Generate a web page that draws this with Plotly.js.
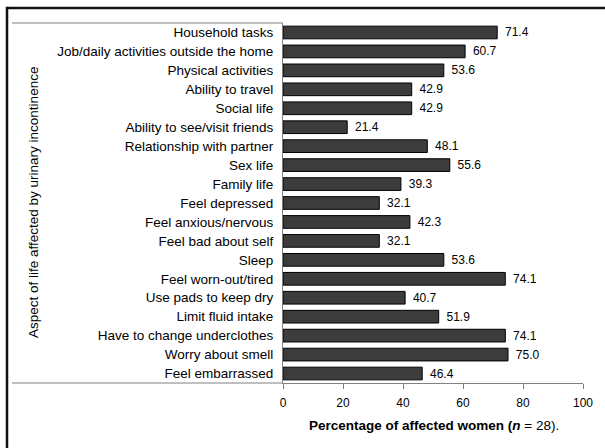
<!DOCTYPE html>
<html>
<head>
<meta charset="utf-8">
<script src="https://cdn.plot.ly/plotly-3.0.1.min.js"></script>
<style>html,body{margin:0;padding:0;background:#fff;}#chart{width:605px;height:448px;}</style>
</head>
<body>
<div id="chart"></div>
<script>
var categories = [
  "Household tasks",
  "Job/daily activities outside the home",
  "Physical activities",
  "Ability to travel",
  "Social life",
  "Ability to see/visit friends",
  "Relationship with partner",
  "Sex life",
  "Family life",
  "Feel depressed",
  "Feel anxious/nervous",
  "Feel bad about self",
  "Sleep",
  "Feel worn-out/tired",
  "Use pads to keep dry",
  "Limit fluid intake",
  "Have to change underclothes",
  "Worry about smell",
  "Feel embarrassed"
];
var percentages = [71.4, 60.7, 53.6, 42.9, 42.9, 21.4, 48.1, 55.6, 39.3, 32.1, 42.3, 32.1, 53.6, 74.1, 40.7, 51.9, 74.1, 75.0, 46.4];
var xTickValues = [0, 20, 40, 60, 80, 100];

var font = "Liberation Sans, Arial, sans-serif";
var gridGrey = "#808080";

var trace = {
  type: "bar",
  orientation: "h",
  y: categories,
  x: percentages,
  marker: {color: "#3c3c3c", line: {color: "#000000", width: 1}},
  texttemplate: "\u2009\u2009%{x:.1f}",
  textposition: "outside",
  constraintext: "none",
  cliponaxis: false,
  textfont: {family: font, size: 12, color: "#000"},
  hoverinfo: "none"
};

var layout = {
  width: 605, height: 448,
  margin: {l: 283, r: 22, t: 23, b: 65},
  paper_bgcolor: "#fff", plot_bgcolor: "#fff",
  showlegend: false,
  bargap: 0.33,
  font: {family: font, color: "#000"},
  xaxis: {
    range: [0, 100], tickvals: xTickValues, ticks: "outside", ticklen: 5, tickwidth: 1,
    tickcolor: gridGrey, showline: true, linecolor: gridGrey, linewidth: 1,
    showgrid: false, zeroline: false, ticklabelstandoff: 4,
    tickfont: {family: font, size: 12, color: "#000"}
  },
  yaxis: {
    autorange: "reversed", ticks: "", showline: true, linecolor: gridGrey, linewidth: 1,
    showgrid: false, zeroline: false, ticklabelstandoff: 6,
    tickfont: {family: font, size: 13.5, color: "#000"}
  },
  annotations: [
    {xref: "paper", yref: "paper", x: -0.8333, y: 0.5, xanchor: "center", yanchor: "middle",
     textangle: -90, showarrow: false,
     text: "Aspect of life affected by urinary incontinence", font: {family: font, size: 13.5, color: "#000"}},
    {xref: "paper", yref: "paper", x: 0.503, y: -0.1167, xanchor: "center", yanchor: "middle", showarrow: false,
     text: "<b>Percentage of affected women (</b><b><i>n</i></b> = 28).", font: {family: font, size: 13.5, color: "#000"}}
  ],
  shapes: [
    {type: "line", xref: "paper", yref: "paper", x0: -0.9033, x1: 0, y0: 1, y1: 1, line: {color: gridGrey, width: 1}},
    {type: "line", xref: "paper", yref: "paper", x0: -0.9033, x1: 0, y0: 0, y1: 0, line: {color: gridGrey, width: 1}},
    {type: "line", xref: "paper", yref: "paper", x0: -0.92, x1: 1.08, y0: 1.0417, y1: 1.0417, line: {color: "#111", width: 2.5}},
    {type: "line", xref: "paper", yref: "paper", x0: -0.92, x1: -0.92, y0: 1.045, y1: -0.2, line: {color: "#111", width: 2.5}}
  ]
};

Plotly.newPlot("chart", [trace], layout, {staticPlot: true, displayModeBar: false});
</script>
</body>
</html>
